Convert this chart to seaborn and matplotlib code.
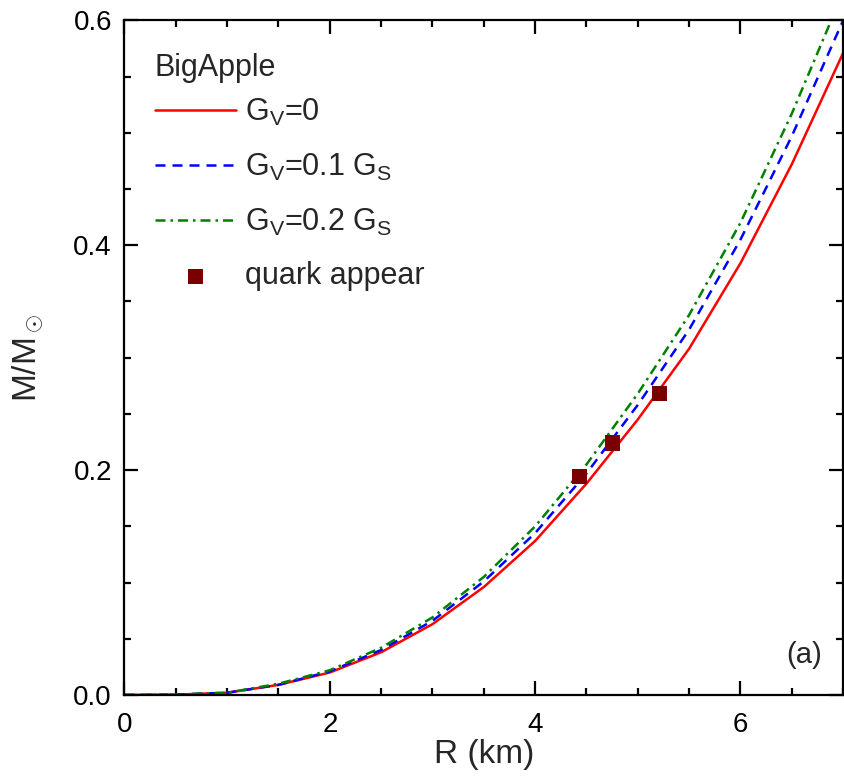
import matplotlib
matplotlib.use("Agg")
import matplotlib.pyplot as plt
import seaborn as sns
import pandas as pd
from matplotlib.ticker import MultipleLocator, FormatStrFormatter

# ---- data ----
R_km = [0.0, 0.5, 1.0, 1.5, 2.0, 2.5, 3.0, 3.5, 4.0, 4.5, 5.0, 5.5, 6.0, 6.5, 7.0]
M_gv0 = [0.0, 0.0003, 0.002, 0.009, 0.020, 0.038, 0.063, 0.096, 0.137, 0.188, 0.245, 0.308, 0.384, 0.472, 0.571]
M_gv01 = [0.0, 0.0003, 0.002, 0.009, 0.021, 0.040, 0.066, 0.101, 0.144, 0.197, 0.258, 0.325, 0.405, 0.497, 0.600]
M_gv02 = [0.0, 0.0003, 0.002, 0.010, 0.022, 0.042, 0.069, 0.105, 0.150, 0.205, 0.268, 0.338, 0.420, 0.517, 0.625]
quark_R = [4.43, 4.75, 5.21]
quark_M = [0.194, 0.224, 0.268]

labels = ["G$_\\mathrm{V}$=0", "G$_\\mathrm{V}$=0.1 G$_\\mathrm{S}$", "G$_\\mathrm{V}$=0.2 G$_\\mathrm{S}$"]
colors = ["#ff0000", "#0000ff", "#008000"]

sns.set_theme(style="ticks")
plt.rcParams["font.family"] = ["Liberation Sans", "DejaVu Sans"]
plt.rcParams["mathtext.fontset"] = "custom"
plt.rcParams["mathtext.rm"] = "Liberation Sans"
plt.rcParams["mathtext.it"] = "Liberation Sans:italic"
plt.rcParams["mathtext.bf"] = "Liberation Sans:bold"

fig = plt.figure(figsize=(8.44, 7.80), dpi=100)
ax = fig.add_axes([0.1475, 0.109, 0.8515, 0.865])

df = pd.DataFrame({
    "R": R_km * 3,
    "M": M_gv0 + M_gv01 + M_gv02,
    "model": [labels[0]] * len(R_km) + [labels[1]] * len(R_km) + [labels[2]] * len(R_km),
})
sns.lineplot(data=df, x="R", y="M", hue="model", style="model",
             palette=dict(zip(labels, colors)),
             dashes={labels[0]: "", labels[1]: (4, 2.8), labels[2]: (4, 2, 1, 2)},
             linewidth=1.8, ax=ax, sort=False, estimator=None)
sns.scatterplot(x=quark_R, y=quark_M, marker="s", s=120, color="#7a0000",
                edgecolor="none", ax=ax, label="quark appear", zorder=5)

ax.set_xlim(0, 7)
ax.set_ylim(0, 0.6)
ax.xaxis.set_major_locator(MultipleLocator(2))
ax.xaxis.set_minor_locator(MultipleLocator(0.5))
ax.yaxis.set_major_locator(MultipleLocator(0.2))
ax.yaxis.set_minor_locator(MultipleLocator(0.05))
ax.yaxis.set_major_formatter(FormatStrFormatter("%.1f"))
ax.tick_params(which="both", direction="in", top=True, right=True, width=1.6,
               labelsize=20, colors="black")
ax.tick_params(axis="x", which="major", pad=12)
ax.tick_params(axis="y", which="major", pad=9)
ax.tick_params(which="major", length=10)
ax.tick_params(which="minor", length=5)
for s in ax.spines.values():
    s.set_linewidth(1.6)
    s.set_color("black")

ax.set_xlabel("R (km)", fontsize=24, labelpad=1)
ax.set_ylabel("M/M$_\\odot$", fontsize=24, labelpad=20)

ax.text(0.971, 0.059, "(a)", transform=ax.transAxes, ha="right", va="center", fontsize=21)
ax.text(0.042, 0.929, "BigApple", transform=ax.transAxes, ha="left", va="center", fontsize=22)

handles, labs = ax.get_legend_handles_labels()
leg = ax.legend(handles, labs, loc="upper left",
                bbox_to_anchor=(0.026, 0.905), frameon=False, fontsize=22,
                handlelength=2.65, handletextpad=0.28, labelspacing=0.78,
                borderaxespad=0)

fig.savefig("out.png", dpi=100)
